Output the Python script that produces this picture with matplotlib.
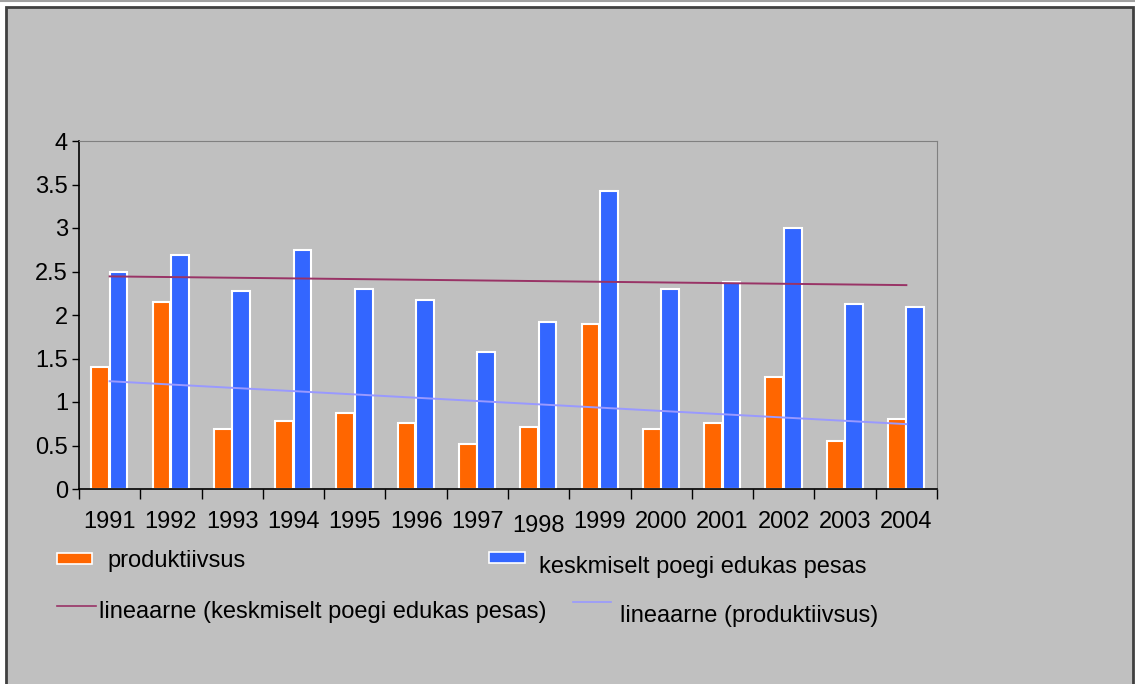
import numpy as np
import matplotlib
matplotlib.use('Agg')
import matplotlib.pyplot as plt
from matplotlib.patches import Rectangle
from matplotlib.lines import Line2D
from matplotlib.transforms import ScaledTranslation

plt.rcParams['font.family'] = ['Liberation Sans', 'DejaVu Sans']

years = ['1991', '1992', '1993', '1994', '1995', '1996', '1997',
         '1998', '1999', '2000', '2001', '2002', '2003', '2004']
produktiivsus = [1.40, 2.15, 0.69, 0.78, 0.875, 0.76, 0.52,
                 0.71, 1.90, 0.69, 0.76, 1.29, 0.556, 0.81]
keskmiselt = [2.50, 2.69, 2.28, 2.75, 2.30, 2.17, 1.58,
              1.92, 3.42, 2.30, 2.38, 3.00, 2.13, 2.09]

ORANGE = '#FF6600'
BLUE = '#3366FF'
TREND_K = '#993366'
TREND_P = '#9999FF'
GRAY = '#C0C0C0'

W, H = 1135, 684
fig = plt.figure(figsize=(W / 100, H / 100), dpi=100, facecolor='white')

# outer chart frame
frame = Rectangle((6 / W, -0.01), (1133 - 6) / W, (H - 7) / H + 0.01,
                  transform=fig.transFigure, facecolor=GRAY,
                  edgecolor='#404040', linewidth=2, zorder=-10)
fig.patches.append(frame)
fig.lines.append(Line2D([0, 1], [1 - 0.5 / H, 1 - 0.5 / H], transform=fig.transFigure,
                        color='#A0A0A0', linewidth=1.5, zorder=-10))

ax = fig.add_axes([79 / W, (H - 489) / H, (937 - 79) / W, (489 - 141) / H])
ax.set_zorder(5)
ax.set_facecolor(GRAY)

x = np.arange(len(years))
bw = 0.29
ax.bar(x - 0.155, produktiivsus, bw, color=ORANGE, edgecolor='white', linewidth=1.5, zorder=2)
ax.bar(x + 0.145, keskmiselt, bw, color=BLUE, edgecolor='white', linewidth=1.5, zorder=2)

# linear trends
kp = np.polyfit(x, keskmiselt, 1)
pp = np.polyfit(x, produktiivsus, 1)
ax.plot(x, np.polyval(kp, x), color=TREND_K, linewidth=1.4, zorder=3)
ax.plot(x, np.polyval(pp, x), color=TREND_P, linewidth=1.4, zorder=3)

ax.set_xlim(-0.5, len(years) - 0.5)
ax.set_ylim(0, 4)
ax.set_yticks(np.arange(0, 4.01, 0.5))
ax.set_yticklabels(['0', '0.5', '1', '1.5', '2', '2.5', '3', '3.5', '4'])
ax.set_xticks(x)
ax.set_xticklabels(years)
ax.set_xticks(np.arange(-0.5, len(years), 1), minor=True)
ax.tick_params(axis='x', which='major', length=0, pad=16, labelsize=17)
ax.tick_params(axis='x', which='minor', length=7, width=1, direction='out', color='black')
ax.tick_params(axis='y', length=5, width=1, direction='out', labelsize=17, pad=3)

for lab in ax.get_xticklabels():
    if lab.get_text() == '1998':
        lab.set_transform(lab.get_transform() + ScaledTranslation(0, -0.035, fig.dpi_scale_trans))

for s in ['top', 'right']:
    ax.spines[s].set_color('#808080')
for s in ['left', 'bottom']:
    ax.spines[s].set_color('black')
    ax.spines[s].set_linewidth(1.2)


def fx(px):
    return px / W


def fy(py):
    return 1 - py / H


# legend drawn by hand
fig.patches.append(Rectangle((fx(57), fy(564)), fx(35), 11 / H, transform=fig.transFigure,
                             facecolor=ORANGE, edgecolor='white', linewidth=1.2))
fig.text(fx(107), fy(561), 'produktiivsus', fontsize=17, va='center')
fig.patches.append(Rectangle((fx(489), fy(563)), fx(36), 11 / H, transform=fig.transFigure,
                             facecolor=BLUE, edgecolor='white', linewidth=1.2))
fig.text(fx(539), fy(567), 'keskmiselt poegi edukas pesas', fontsize=17, va='center')
fig.lines.append(Line2D([fx(57), fx(96)], [fy(606), fy(606)], transform=fig.transFigure,
                        color=TREND_K, linewidth=1.2))
fig.text(fx(99), fy(612), 'lineaarne (keskmiselt poegi edukas pesas)', fontsize=17, va='center')
fig.lines.append(Line2D([fx(573), fx(611)], [fy(602), fy(602)], transform=fig.transFigure,
                        color=TREND_P, linewidth=1.2))
fig.text(fx(620), fy(616), 'lineaarne (produktiivsus)', fontsize=17, va='center')

fig.savefig('out.png', dpi=100, facecolor=fig.get_facecolor())
